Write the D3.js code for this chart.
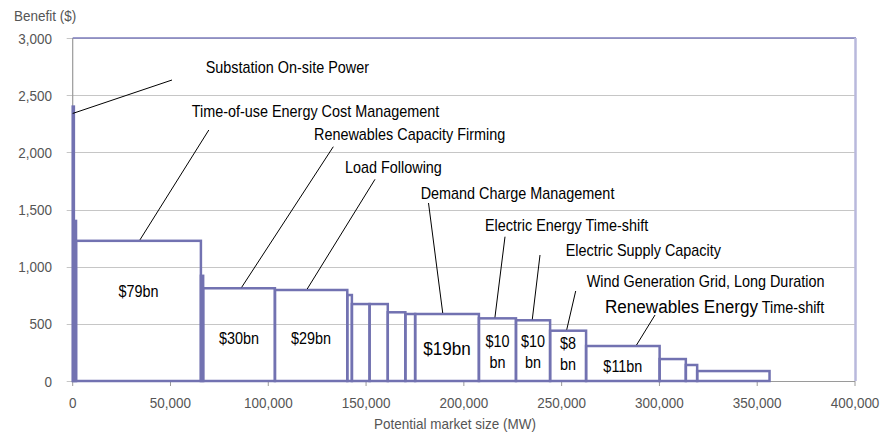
<!DOCTYPE html>
<html>
<head>
<meta charset="utf-8">
<script src="https://cdn.jsdelivr.net/npm/d3@7"></script>
<style>
  body { margin: 0; background: #fff; }
  svg { display: block; font-family: "Liberation Sans", Arial, sans-serif; }
</style>
</head>
<body>
<svg width="894" height="432"></svg>
<script>
// bar edges along the x axis (MW) and the benefit of each block ($/kW)
var edges = [0, 600, 1700, 65550, 66700, 103400, 140400, 142750, 151800, 161100, 170100, 175100,
    207700, 226650, 244100, 262500, 300100, 313500, 319300, 356300];
var benefit = [2400, 1400, 1226, 920, 811, 796, 752, 673, 673, 601, 586, 586, 548, 531, 440, 306, 192, 140, 87];

var yTicks = [0, 500, 1000, 1500, 2000, 2500, 3000];
var xTicks = [0, 50000, 100000, 150000, 200000, 250000, 300000, 350000, 400000];

// value labels inside blocks
var valueBar = [2, 4, 5, 11, 12, 13, 14, 15];
var valueText = [['$79bn'], ['$30bn'], ['$29bn'], ['$19bn'], ['$10', 'bn'], ['$10', 'bn'], ['$8', 'bn'], ['$11bn']];

// application names with leader lines pointing to a block
var appNames = ['Substation On-site Power', 'Time-of-use Energy Cost Management', 'Renewables Capacity Firming',
    'Load Following', 'Demand Charge Management', 'Electric Energy Time-shift', 'Electric Supply Capacity',
    'Wind Generation Grid, Long Duration', 'Renewables Energy'];
var appBar = [0, 2, 4, 5, 11, 12, 13, 14, 15];
var appAt = [0, 34400, 86400, 119900, 189200, 215900, 235000, 252600, 288300];

var svg = d3.select('svg');
var plotLeft = 72.7, plotRight = 855, plotTop = 38, plotBottom = 381;
var sx = 0.9; // the text in the picture is a little narrow

var x = d3.scaleLinear().domain([0, 400000]).range([plotLeft, plotRight]);
var y = d3.scaleLinear().domain([0, 3000]).range([plotBottom, plotTop]);
var fmt = d3.format(',');

function label(g, px, py, str, size, anchor, color) {
    return g.append('text')
        .attr('transform', 'translate(' + px + ',' + py + ') scale(' + sx + ',1)')
        .attr('text-anchor', anchor || 'start')
        .style('font-size', size + 'px')
        .attr('fill', color || '#000')
        .text(str);
}

// gridlines
svg.append('g').selectAll('line').data(yTicks).enter().append('line')
    .attr('x1', plotLeft - 6).attr('x2', plotRight)
    .attr('y1', d => Math.round(y(d)) + 0.5).attr('y2', d => Math.round(y(d)) + 0.5)
    .attr('stroke', '#c6c6c6').attr('stroke-width', 1);

// axis lines and ticks
svg.append('line').attr('x1', plotLeft).attr('x2', plotLeft).attr('y1', plotTop).attr('y2', plotBottom)
    .attr('stroke', '#9a9a9a').attr('stroke-width', 1.2);
svg.append('line').attr('x1', plotLeft).attr('x2', plotRight).attr('y1', plotBottom + 0.5).attr('y2', plotBottom + 0.5)
    .attr('stroke', '#9a9a9a');
svg.append('g').selectAll('line').data(xTicks).enter().append('line')
    .attr('x1', d => x(d)).attr('x2', d => x(d)).attr('y1', plotBottom).attr('y2', plotBottom + 5)
    .attr('stroke', '#9a9a9a');

// plot frame on top and right
svg.append('line').attr('x1', plotLeft).attr('x2', plotRight + 1).attr('y1', plotTop).attr('y2', plotTop)
    .attr('stroke', '#7c7cbc').attr('stroke-width', 1.5);
svg.append('line').attr('x1', plotRight + 0.5).attr('x2', plotRight + 0.5).attr('y1', plotTop).attr('y2', plotBottom)
    .attr('stroke', '#b9b9dc').attr('stroke-width', 2.5);

// tick labels
var yl = svg.append('g');
yTicks.forEach(function (t) {
    label(yl, 52, y(t) + 5.5, fmt(t), 15, 'end', '#555');
});
var xl = svg.append('g');
xTicks.forEach(function (t) {
    label(xl, x(t), 407.5, fmt(t), 15, 'middle', '#555');
});
label(svg, 14, 21, 'Benefit ($)', 15, 'start', '#555');
label(svg, 455, 428.5, 'Potential market size (MW)', 15, 'middle', '#555');

// blocks
var blocks = benefit.map((b, i) => ({ x0: edges[i], x1: edges[i + 1], v: b }));
svg.append('g').selectAll('rect').data(blocks).enter().append('rect')
    .attr('x', d => x(d.x0))
    .attr('y', d => y(d.v))
    .attr('width', d => x(d.x1) - x(d.x0))
    .attr('height', d => y(0) - y(d.v))
    .attr('fill', 'none')
    .attr('stroke', '#7272b1')
    .attr('stroke-width', 2.5);

// block values
var vg = svg.append('g');
var valueCentreY = [291.7, 338.3, 338.3, 348.3, 341.7, 341.7, 343.3, 366.7];
valueBar.forEach(function (b, i) {
    var cx = (x(edges[b]) + x(edges[b + 1])) / 2;
    var lines = valueText[i];
    var size = b == 11 ? 19 : 16;
    lines.forEach(function (s, j) {
        label(vg, cx, valueCentreY[i] + j * 20.5 + size * 0.36, s, size, 'middle');
    });
});

// application names and leader lines
var labelPos = [[205.7, 73], [191.7, 116.7], [314, 140], [345, 173], [420.7, 199.3], [485, 231],
    [565.7, 256], [586.7, 286.7], [605, 313]];
var leaderTop = [[172, 80], [208.8, 130], [333.3, 146.7], [375, 179.3], [428.5, 203], [505, 236.7],
    [540, 255], [575.7, 291], [655, 315]];
var ag = svg.append('g');
appNames.forEach(function (n, i) {
    var bx = appAt[i] == 0 ? x(0) : x(appAt[i]);
    var by = appAt[i] == 0 ? y(2340) : y(benefit[appBar[i]]) - 1;
    ag.append('line')
        .attr('x1', bx).attr('y1', by)
        .attr('x2', leaderTop[i][0]).attr('y2', leaderTop[i][1])
        .attr('stroke', '#000').attr('stroke-width', 1);
    var t = label(ag, labelPos[i][0], labelPos[i][1], n, i == 8 ? 19 : 16, 'start');
    if (i == 8) {
        t.append('tspan').style('font-size', '16px').text(' Time-shift');
    }
});
</script>
</body>
</html>
